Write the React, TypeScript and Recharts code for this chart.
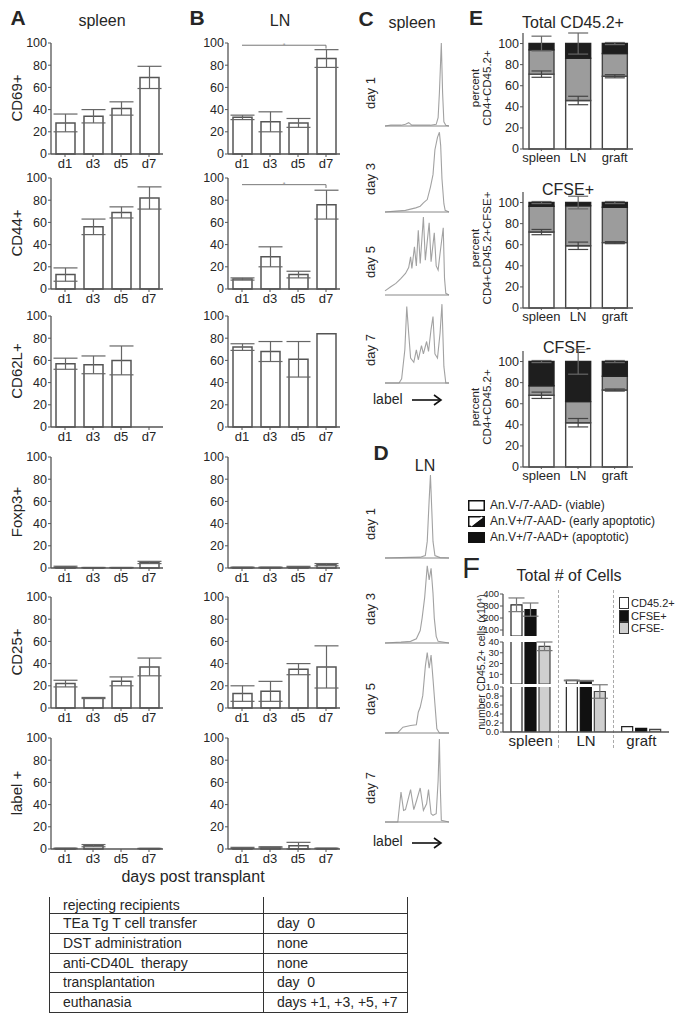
import React from "react";
import {
  BarChart,
  Bar,
  XAxis,
  YAxis,
  ErrorBar,
  ReferenceLine,
  LineChart,
  Line,
} from "recharts";

const FONT = '"Liberation Sans", Arial, Helvetica, sans-serif';
const INK = "#262626";
const AXIS = "#555";

// ---- A / B: % positive by day ----
const days = ["d1", "d3", "d5", "d7"];
const markers = ["CD69+", "CD44+", "CD62L+", "Foxp3+", "CD25+", "label +"];

const spleenCD69 = [28, 34, 41, 69];
const spleenCD69Err = [8, 6, 6, 10];
const spleenCD44 = [13, 56, 69, 82];
const spleenCD44Err = [6, 7, 5, 10];
const spleenCD62L = [57, 56, 60, null];
const spleenCD62LErr = [5, 8, 13, null];
const spleenFoxp3 = [1, 0.3, 0.3, 5];
const spleenFoxp3Err = [0.6, 0.2, 0.2, 1];
const spleenCD25 = [22, 9, 24, 37];
const spleenCD25Err = [3, 0.5, 4, 8];
const spleenLabel = [0.5, 3, 0, 0.4];
const spleenLabelErr = [0.3, 1, 0, 0.2];

const lnCD69 = [33, 29, 28, 86];
const lnCD69Err = [2, 9, 4, 8];
const lnCD44 = [9, 29, 13, 76];
const lnCD44Err = [1, 9, 3, 13];
const lnCD62L = [72, 68, 61, 84];
const lnCD62LErr = [3, 9, 16, 0];
const lnFoxp3 = [0.5, 0.5, 1, 3];
const lnFoxp3Err = [0.3, 0.3, 0.5, 1];
const lnCD25 = [13, 15, 35, 37];
const lnCD25Err = [7, 9, 5, 19];
const lnLabel = [1, 1.5, 3, 0.5];
const lnLabelErr = [0.5, 0.5, 3, 0.3];

// significance bracket height (d1 vs d7), LN only
const lnBrackets = [98, 94, null, null, null, null];

// ---- C / D: label dilution histograms [channel, % of max] ----
const spleenDay1 = [[0, 0], [9, 1], [25, 1], [32, 2], [37, 4], [42, 1], [55, 1], [71, 1], [80, 2], [83, 10], [85, 40], [88, 100], [90, 40], [92, 5], [95, 1], [100, 0]];
const spleenDay3 = [[0, 0], [17, 1], [32, 2], [48, 5], [55, 7], [60, 11], [66, 15], [71, 30], [75, 45], [78, 75], [82, 90], [85, 96], [87, 80], [89, 40], [92, 10], [94, 2], [100, 0]];
const spleenDay5 = [[0, 5], [9, 10], [17, 14], [25, 20], [32, 26], [37, 33], [40, 46], [42, 32], [46, 58], [49, 35], [52, 78], [55, 38], [60, 94], [63, 42], [69, 87], [72, 40], [77, 75], [80, 35], [83, 30], [86, 50], [91, 81], [93, 20], [95, 2], [100, 0]];
const spleenDay7 = [[0, 0], [22, 0], [26, 5], [31, 40], [34, 92], [37, 60], [40, 30], [45, 25], [49, 40], [52, 28], [57, 45], [60, 35], [65, 50], [68, 38], [72, 65], [75, 80], [78, 35], [82, 30], [86, 60], [89, 95], [92, 20], [95, 0], [100, 0]];
const lnDay1 = [[0, 0], [25, 0.5], [55, 1], [63, 3], [66, 20], [69, 70], [71, 100], [72.5, 70], [75, 20], [78, 3], [86, 0.5], [100, 0]];
const lnDay3 = [[0, 0], [25, 1], [40, 2], [49, 5], [55, 15], [58, 30], [62, 55], [66, 93], [69, 76], [72, 90], [75, 60], [77, 30], [80, 8], [83, 2], [100, 0]];
const lnDay5 = [[0, 0], [20, 0.5], [28, 7], [40, 9], [49, 10], [52, 25], [55, 31], [59, 45], [63, 80], [66, 97], [69, 78], [72, 94], [75, 65], [78, 35], [81, 5], [85, 0], [100, 0]];
const lnDay7 = [[0, 0], [20, 0], [25, 36], [29, 14], [32, 15], [37, 30], [40, 39], [45, 15], [49, 25], [55, 41], [60, 14], [65, 22], [68, 39], [72, 10], [75, 8], [80, 10], [83, 50], [85, 100], [86.5, 40], [88, 2], [100, 0]];

// ---- E: viability (stacked %) ----
const tissues = ["spleen", "LN", "graft"];
const totalViable = [71, 46, 69];
const totalViableErr = [3, 4, 1.5];
const totalEarly = [23, 40, 21.5];
const totalDead = [6, 14, 9.5];
const totalDeadErr = [7, 10, 1];
const posViable = [72, 59, 62];
const posViableErr = [2.5, 3.5, 1];
const posEarly = [24.5, 38, 33.5];
const posDead = [3.5, 3, 4.5];
const posDeadErr = [1, 6, 1];
const negViable = [68, 42, 73];
const negViableErr = [3, 4, 1];
const negEarly = [9, 20, 13];
const negDead = [23, 38, 14];
const negDeadErr = [1, 12, 1];

// ---- F: total cell numbers (x10^4) ----
const countCD45 = [310, 4.3, 0.12];
const countCD45Err = [57, 0.3, 0];
const countPos = [270, 4.0, 0.08];
const countPosErr = [55, 0.3, 0];
const countNeg = [36, 0.9, 0.06];
const countNegErr = [4, 0.15, 0];

const tableRows = [
  ["rejecting recipients", ""],
  ["TEa Tg T cell transfer", "day  0"],
  ["DST administration", "none"],
  ["anti-CD40L  therapy", "none"],
  ["transplantation", "day  0"],
  ["euthanasia", "days +1, +3, +5, +7"],
];

const tickStyle = { fontSize: 12.5, fill: INK, fontFamily: FONT };

function Txt({ x, y, size = 13, bold = false, rot = 0, anchor = "middle", children }: any) {
  return (
    <div
      style={{
        position: "absolute",
        left: x,
        top: y,
        fontSize: size,
        fontWeight: bold ? 700 : 400,
        whiteSpace: "pre",
        lineHeight: 1.05,
        textAlign: "center",
        transform: `translate(${anchor === "middle" ? "-50%" : "0"}, -50%) rotate(${rot}deg)`,
      }}
    >
      {children}
    </div>
  );
}

function DayBars({ means, errs, left, top, bracket }: any) {
  const data = days.map((day, i) => ({ day, value: means[i], err: errs[i] }));
  return (
    <div style={{ position: "absolute", left, top: top - 9 }}>
      <BarChart width={170} height={144} data={data} margin={{ top: 9, right: 7, bottom: 0, left: 0 }} barSize={19}>
        <XAxis
          dataKey="day"
          height={24}
          interval={0}
          tickSize={3}
          tickMargin={2}
          axisLine={{ stroke: AXIS, strokeWidth: 1.3 }}
          tickLine={{ stroke: AXIS }}
          tick={{ ...tickStyle, fontSize: 13 }}
        />
        <YAxis
          domain={[0, 100]}
          ticks={[0, 20, 40, 60, 80, 100]}
          interval={0}
          width={51}
          tickSize={3}
          tickMargin={1}
          axisLine={{ stroke: AXIS, strokeWidth: 1.3 }}
          tickLine={{ stroke: AXIS }}
          tick={tickStyle}
        />
        {bracket != null && (
          <ReferenceLine
            segment={[{ x: "d1", y: bracket }, { x: "d7", y: bracket }]}
            stroke="#777"
            label={{ value: "*", position: "center", fontSize: 7, fill: "#999" }}
          />
        )}
        {bracket != null && (
          <ReferenceLine segment={[{ x: "d7", y: bracket }, { x: "d7", y: bracket - 3 }]} stroke="#777" />
        )}
        <Bar dataKey="value" fill="#fff" stroke="#555" strokeWidth={1.5} isAnimationActive={false}>
          <ErrorBar dataKey="err" width={12} stroke="#666" strokeWidth={1.2} isAnimationActive={false} />
        </Bar>
      </BarChart>
    </div>
  );
}

function Histo({ points, baseline }: any) {
  const data = points.map(([ch, n]: number[]) => ({ ch, n }));
  return (
    <div style={{ position: "absolute", left: 384, top: baseline - 85 }}>
      <LineChart width={66} height={88} data={data} margin={{ top: 2, right: 1, bottom: 0, left: 1 }}>
        <XAxis
          type="number"
          dataKey="ch"
          domain={[0, 100]}
          ticks={[20, 40, 60, 80]}
          tick={false}
          tickSize={2}
          height={3}
          axisLine={{ stroke: "#888" }}
          tickLine={{ stroke: "#aaa" }}
        />
        <YAxis hide domain={[0, 100]} />
        <Line dataKey="n" type="linear" stroke="#a2a2a2" strokeWidth={1.1} dot={false} isAnimationActive={false} />
      </LineChart>
    </div>
  );
}

function StackChart({ viable, viableErr, early, dead, deadErr, plotTop }: any) {
  const data = tissues.map((tissue, i) => ({
    tissue,
    viable: viable[i],
    viableErr: viableErr[i],
    early: early[i],
    dead: dead[i],
    deadErr: deadErr[i],
  }));
  return (
    <div style={{ position: "absolute", left: 493, top: plotTop - 2 }}>
      <BarChart width={145} height={138} data={data} margin={{ top: 2, right: 5, bottom: 0, left: 0 }} barSize={25}>
        <XAxis
          dataKey="tissue"
          height={20}
          interval={0}
          tickSize={2}
          tickMargin={2}
          axisLine={{ stroke: AXIS, strokeWidth: 1.3 }}
          tickLine={{ stroke: AXIS }}
          tick={{ ...tickStyle, fontSize: 13 }}
        />
        <XAxis xAxisId="err" dataKey="tissue" hide />
        <YAxis
          domain={[0, 110]}
          ticks={[0, 20, 40, 60, 80, 100]}
          interval={0}
          width={30}
          tickSize={3}
          tickMargin={1}
          axisLine={{ stroke: AXIS, strokeWidth: 1.3 }}
          tickLine={{ stroke: AXIS }}
          tick={tickStyle}
        />
        <Bar dataKey="viable" stackId="s" fill="#fff" stroke="#444" strokeWidth={1.4} isAnimationActive={false} />
        <Bar dataKey="early" stackId="s" fill="#9c9c9c" stroke="#444" strokeWidth={1.4} isAnimationActive={false} />
        <Bar dataKey="dead" stackId="s" fill="#1e1e1e" stroke="#222" strokeWidth={1.4} isAnimationActive={false}>
          <ErrorBar dataKey="deadErr" width={10} stroke="#666" strokeWidth={1.2} isAnimationActive={false} />
        </Bar>
        <Bar xAxisId="err" dataKey="viable" fill="none" stroke="none" isAnimationActive={false}>
          <ErrorBar dataKey="viableErr" width={10} stroke="#444" strokeWidth={1.2} isAnimationActive={false} />
        </Bar>
      </BarChart>
    </div>
  );
}

// broken axis: a segment only draws values that reach into it, error bars only where the value lies
const segVal = (v: number, [lo]: number[]) => (v > lo ? v : null);
const segErr = (v: number, e: number, [lo, hi]: number[]) => (e > 0 && v >= lo && v <= hi ? e : null);

function CountSegment({ domain, ticks, plotTop, plotH, showX, fmt }: any) {
  const data = tissues.map((tissue, i) => ({
    tissue,
    cd45: segVal(countCD45[i], domain),
    cd45Err: segErr(countCD45[i], countCD45Err[i], domain),
    pos: segVal(countPos[i], domain),
    posErr: segErr(countPos[i], countPosErr[i], domain),
    neg: segVal(countNeg[i], domain),
    negErr: segErr(countNeg[i], countNegErr[i], domain),
  }));
  return (
    <div style={{ position: "absolute", left: 483, top: plotTop - 6 }}>
      <BarChart
        width={186}
        height={6 + plotH + (showX ? 22 : 0)}
        data={data}
        margin={{ top: 6, right: 0, bottom: 0, left: 0 }}
        barSize={11}
        barGap={3}
      >
        <XAxis
          dataKey="tissue"
          hide={!showX}
          height={22}
          interval={0}
          tickSize={2}
          tickMargin={1}
          axisLine={{ stroke: AXIS, strokeWidth: 1.3 }}
          tickLine={false}
          tick={{ ...tickStyle, fontSize: 15 }}
        />
        <YAxis
          domain={domain}
          ticks={ticks}
          interval={0}
          allowDataOverflow
          width={20}
          tickSize={3}
          tickMargin={1}
          tickFormatter={fmt}
          axisLine={{ stroke: AXIS, strokeWidth: 1.3 }}
          tickLine={{ stroke: AXIS }}
          tick={{ ...tickStyle, fontSize: 9.5 }}
        />
        <Bar dataKey="cd45" fill="#fff" stroke="#222" strokeWidth={1.2} isAnimationActive={false}>
          <ErrorBar dataKey="cd45Err" width={8} stroke="#777" strokeWidth={1.2} isAnimationActive={false} />
        </Bar>
        <Bar dataKey="pos" fill="#111" stroke="#111" strokeWidth={1.2} isAnimationActive={false}>
          <ErrorBar dataKey="posErr" width={8} stroke="#777" strokeWidth={1.2} isAnimationActive={false} />
        </Bar>
        <Bar dataKey="neg" fill="#cfcfcf" stroke="#444" strokeWidth={1.2} isAnimationActive={false}>
          <ErrorBar dataKey="negErr" width={8} stroke="#777" strokeWidth={1.2} isAnimationActive={false} />
        </Bar>
      </BarChart>
    </div>
  );
}

const abTops = [43, 178, 316, 457, 597, 738];
const spleenRows = [
  [spleenCD69, spleenCD69Err],
  [spleenCD44, spleenCD44Err],
  [spleenCD62L, spleenCD62LErr],
  [spleenFoxp3, spleenFoxp3Err],
  [spleenCD25, spleenCD25Err],
  [spleenLabel, spleenLabelErr],
];
const lnRows = [
  [lnCD69, lnCD69Err],
  [lnCD44, lnCD44Err],
  [lnCD62L, lnCD62LErr],
  [lnFoxp3, lnFoxp3Err],
  [lnCD25, lnCD25Err],
  [lnLabel, lnLabelErr],
];

const histoDays = ["day 1", "day 3", "day 5", "day 7"];
const spleenHistos = [spleenDay1, spleenDay3, spleenDay5, spleenDay7];
const lnHistos = [lnDay1, lnDay3, lnDay5, lnDay7];
const cBase = [126, 212, 295, 383];
const dBase = [558, 643, 733, 822];

function Arrow({ x, y }: any) {
  return (
    <svg style={{ position: "absolute", left: x, top: y - 6 }} width={32} height={12}>
      <line x1={0} y1={6} x2={28} y2={6} stroke="#111" strokeWidth={1.6} />
      <polyline points="22,1 29,6 22,11" fill="none" stroke="#111" strokeWidth={1.6} />
    </svg>
  );
}

function LegendSwatch({ kind }: any) {
  return (
    <svg width={17} height={11} style={{ marginRight: 5, flex: "none" }}>
      <rect x={0.75} y={0.75} width={15.5} height={9.5} fill={kind === "dead" ? "#111" : "#fff"} stroke="#111" strokeWidth={1.5} />
      {kind === "early" && (
        <>
          <polygon points="16,1 16,10 3,10" fill="#111" />
          <line x1={3} y1={10} x2={14} y2={1} stroke="#fff" strokeWidth={1.6} />
        </>
      )}
    </svg>
  );
}

export default function App() {
  const rowH = 19.8;
  return (
    <div
      style={{
        position: "absolute",
        left: 0,
        top: 0,
        width: 675,
        height: 1018,
        background: "#fff",
        overflow: "hidden",
        fontFamily: FONT,
        color: INK,
      }}
    >
      {/* A / B */}
      <Txt x={18} y={18} size={21} bold>A</Txt>
      <Txt x={102} y={21} size={16}>spleen</Txt>
      <Txt x={197} y={18} size={21} bold>B</Txt>
      <Txt x={280} y={21} size={16}>LN</Txt>
      {markers.map((m, i) => (
        <Txt key={m} x={17} y={abTops[i] + 55} size={15} rot={-90}>{m}</Txt>
      ))}
      {spleenRows.map(([means, errs], i) => (
        <DayBars key={"s" + i} means={means} errs={errs} left={0} top={abTops[i]} />
      ))}
      {lnRows.map(([means, errs], i) => (
        <DayBars key={"l" + i} means={means} errs={errs} left={177} top={abTops[i]} bracket={lnBrackets[i]} />
      ))}
      <Txt x={193} y={877} size={16}>days post transplant</Txt>

      {/* C / D */}
      <Txt x={366} y={19} size={21} bold>C</Txt>
      <Txt x={412} y={23} size={16}>spleen</Txt>
      {spleenHistos.map((p, i) => (
        <Histo key={"c" + i} points={p} baseline={cBase[i]} />
      ))}
      {histoDays.map((d, i) => (
        <Txt key={"cd" + d} x={371} y={cBase[i] - 33} size={13} rot={-90}>{d}</Txt>
      ))}
      <Txt x={373} y={399} size={14} anchor="start">label</Txt>
      <Arrow x={412} y={400} />

      <Txt x={381} y={453} size={21} bold>D</Txt>
      <Txt x={425} y={466} size={16}>LN</Txt>
      {lnHistos.map((p, i) => (
        <Histo key={"d" + i} points={p} baseline={dBase[i]} />
      ))}
      {histoDays.map((d, i) => (
        <Txt key={"dd" + d} x={371} y={dBase[i] - 34} size={13} rot={-90}>{d}</Txt>
      ))}
      <Txt x={373} y={841} size={14} anchor="start">label</Txt>
      <Arrow x={412} y={843} />

      {/* E */}
      <Txt x={476} y={18} size={21} bold>E</Txt>
      <Txt x={573} y={23} size={16}>Total CD45.2+</Txt>
      <Txt x={568} y={190} size={16}>CFSE+</Txt>
      <Txt x={567} y={348} size={16}>CFSE-</Txt>
      <Txt x={481} y={88} size={11.5} rot={-90}>{"percent\nCD4+CD45.2+"}</Txt>
      <Txt x={481} y={248} size={11.5} rot={-90}>{"percent\nCD4+CD45.2+CFSE+"}</Txt>
      <Txt x={481} y={407} size={11.5} rot={-90}>{"percent\nCD4+CD45.2+"}</Txt>
      <StackChart viable={totalViable} viableErr={totalViableErr} early={totalEarly} dead={totalDead} deadErr={totalDeadErr} plotTop={33} />
      <StackChart viable={posViable} viableErr={posViableErr} early={posEarly} dead={posDead} deadErr={posDeadErr} plotTop={192} />
      <StackChart viable={negViable} viableErr={negViableErr} early={negEarly} dead={negDead} deadErr={negDeadErr} plotTop={351} />

      <div style={{ position: "absolute", left: 468, top: 497, fontSize: 12, lineHeight: "16px" }}>
        {[
          ["viable", "An.V-/7-AAD- (viable)"],
          ["early", "An.V+/7-AAD- (early apoptotic)"],
          ["dead", "An.V+/7-AAD+ (apoptotic)"],
        ].map(([k, t]) => (
          <div key={k} style={{ display: "flex", alignItems: "center", whiteSpace: "nowrap" }}>
            <LegendSwatch kind={k} />
            {t}
          </div>
        ))}
      </div>

      {/* F */}
      <Txt x={471} y={568} size={29}>F</Txt>
      <Txt x={569} y={576} size={16}>Total # of Cells</Txt>
      <Txt x={482} y={662} size={10.5} rot={-90}>number CD45.2+ cells (x10⁴)</Txt>
      <div style={{ position: "absolute", left: 558, top: 590, height: 158, borderLeft: "1px dashed #aaa" }} />
      <div style={{ position: "absolute", left: 613, top: 590, height: 158, borderLeft: "1px dashed #aaa" }} />
      <CountSegment domain={[50, 400]} ticks={[100, 200, 300, 400]} plotTop={594} plotH={42} />
      <CountSegment domain={[1, 40]} ticks={[10, 20, 30, 40]} plotTop={642} plotH={42} />
      <CountSegment
        domain={[0, 1]}
        ticks={[0, 0.2, 0.4, 0.6, 0.8, 1]}
        plotTop={687}
        plotH={45}
        showX
        fmt={(v: number) => v.toFixed(1)}
      />
      <div style={{ position: "absolute", left: 619, top: 597, fontSize: 11, lineHeight: "12.5px", background: "#fff" }}>
        {[
          ["#fff", "CD45.2+"],
          ["#111", "CFSE+"],
          ["#cfcfcf", "CFSE-"],
        ].map(([c, t]) => (
          <div key={t} style={{ display: "flex", alignItems: "center" }}>
            <span style={{ display: "inline-block", width: 8, height: 10, background: c, border: "1px solid #333", marginRight: 2 }} />
            {t}
          </div>
        ))}
      </div>

      {/* protocol table */}
      <div style={{ position: "absolute", left: 49, top: 897, width: 359, height: 115, fontSize: 14 }}>
        <div style={{ position: "absolute", left: 0, top: 0, bottom: 0, borderLeft: "1.3px solid #333" }} />
        <div style={{ position: "absolute", left: 214, top: 0, bottom: 0, borderLeft: "1.3px solid #333" }} />
        <div style={{ position: "absolute", right: 0, top: 0, bottom: 0, borderLeft: "1.3px solid #333" }} />
        {tableRows.map(([a, b], i) => {
          const bottom = 16 + i * rowH;
          const center = bottom - (i === 0 ? 8 : rowH / 2);
          return (
            <React.Fragment key={a}>
              <div style={{ position: "absolute", left: 0, width: 359, top: bottom, borderTop: "1.3px solid #333" }} />
              <div style={{ position: "absolute", left: 14, top: center, transform: "translateY(-50%)", whiteSpace: "pre" }}>{a}</div>
              <div style={{ position: "absolute", left: 228, top: center, transform: "translateY(-50%)", whiteSpace: "pre" }}>{b}</div>
            </React.Fragment>
          );
        })}
      </div>
    </div>
  );
}
